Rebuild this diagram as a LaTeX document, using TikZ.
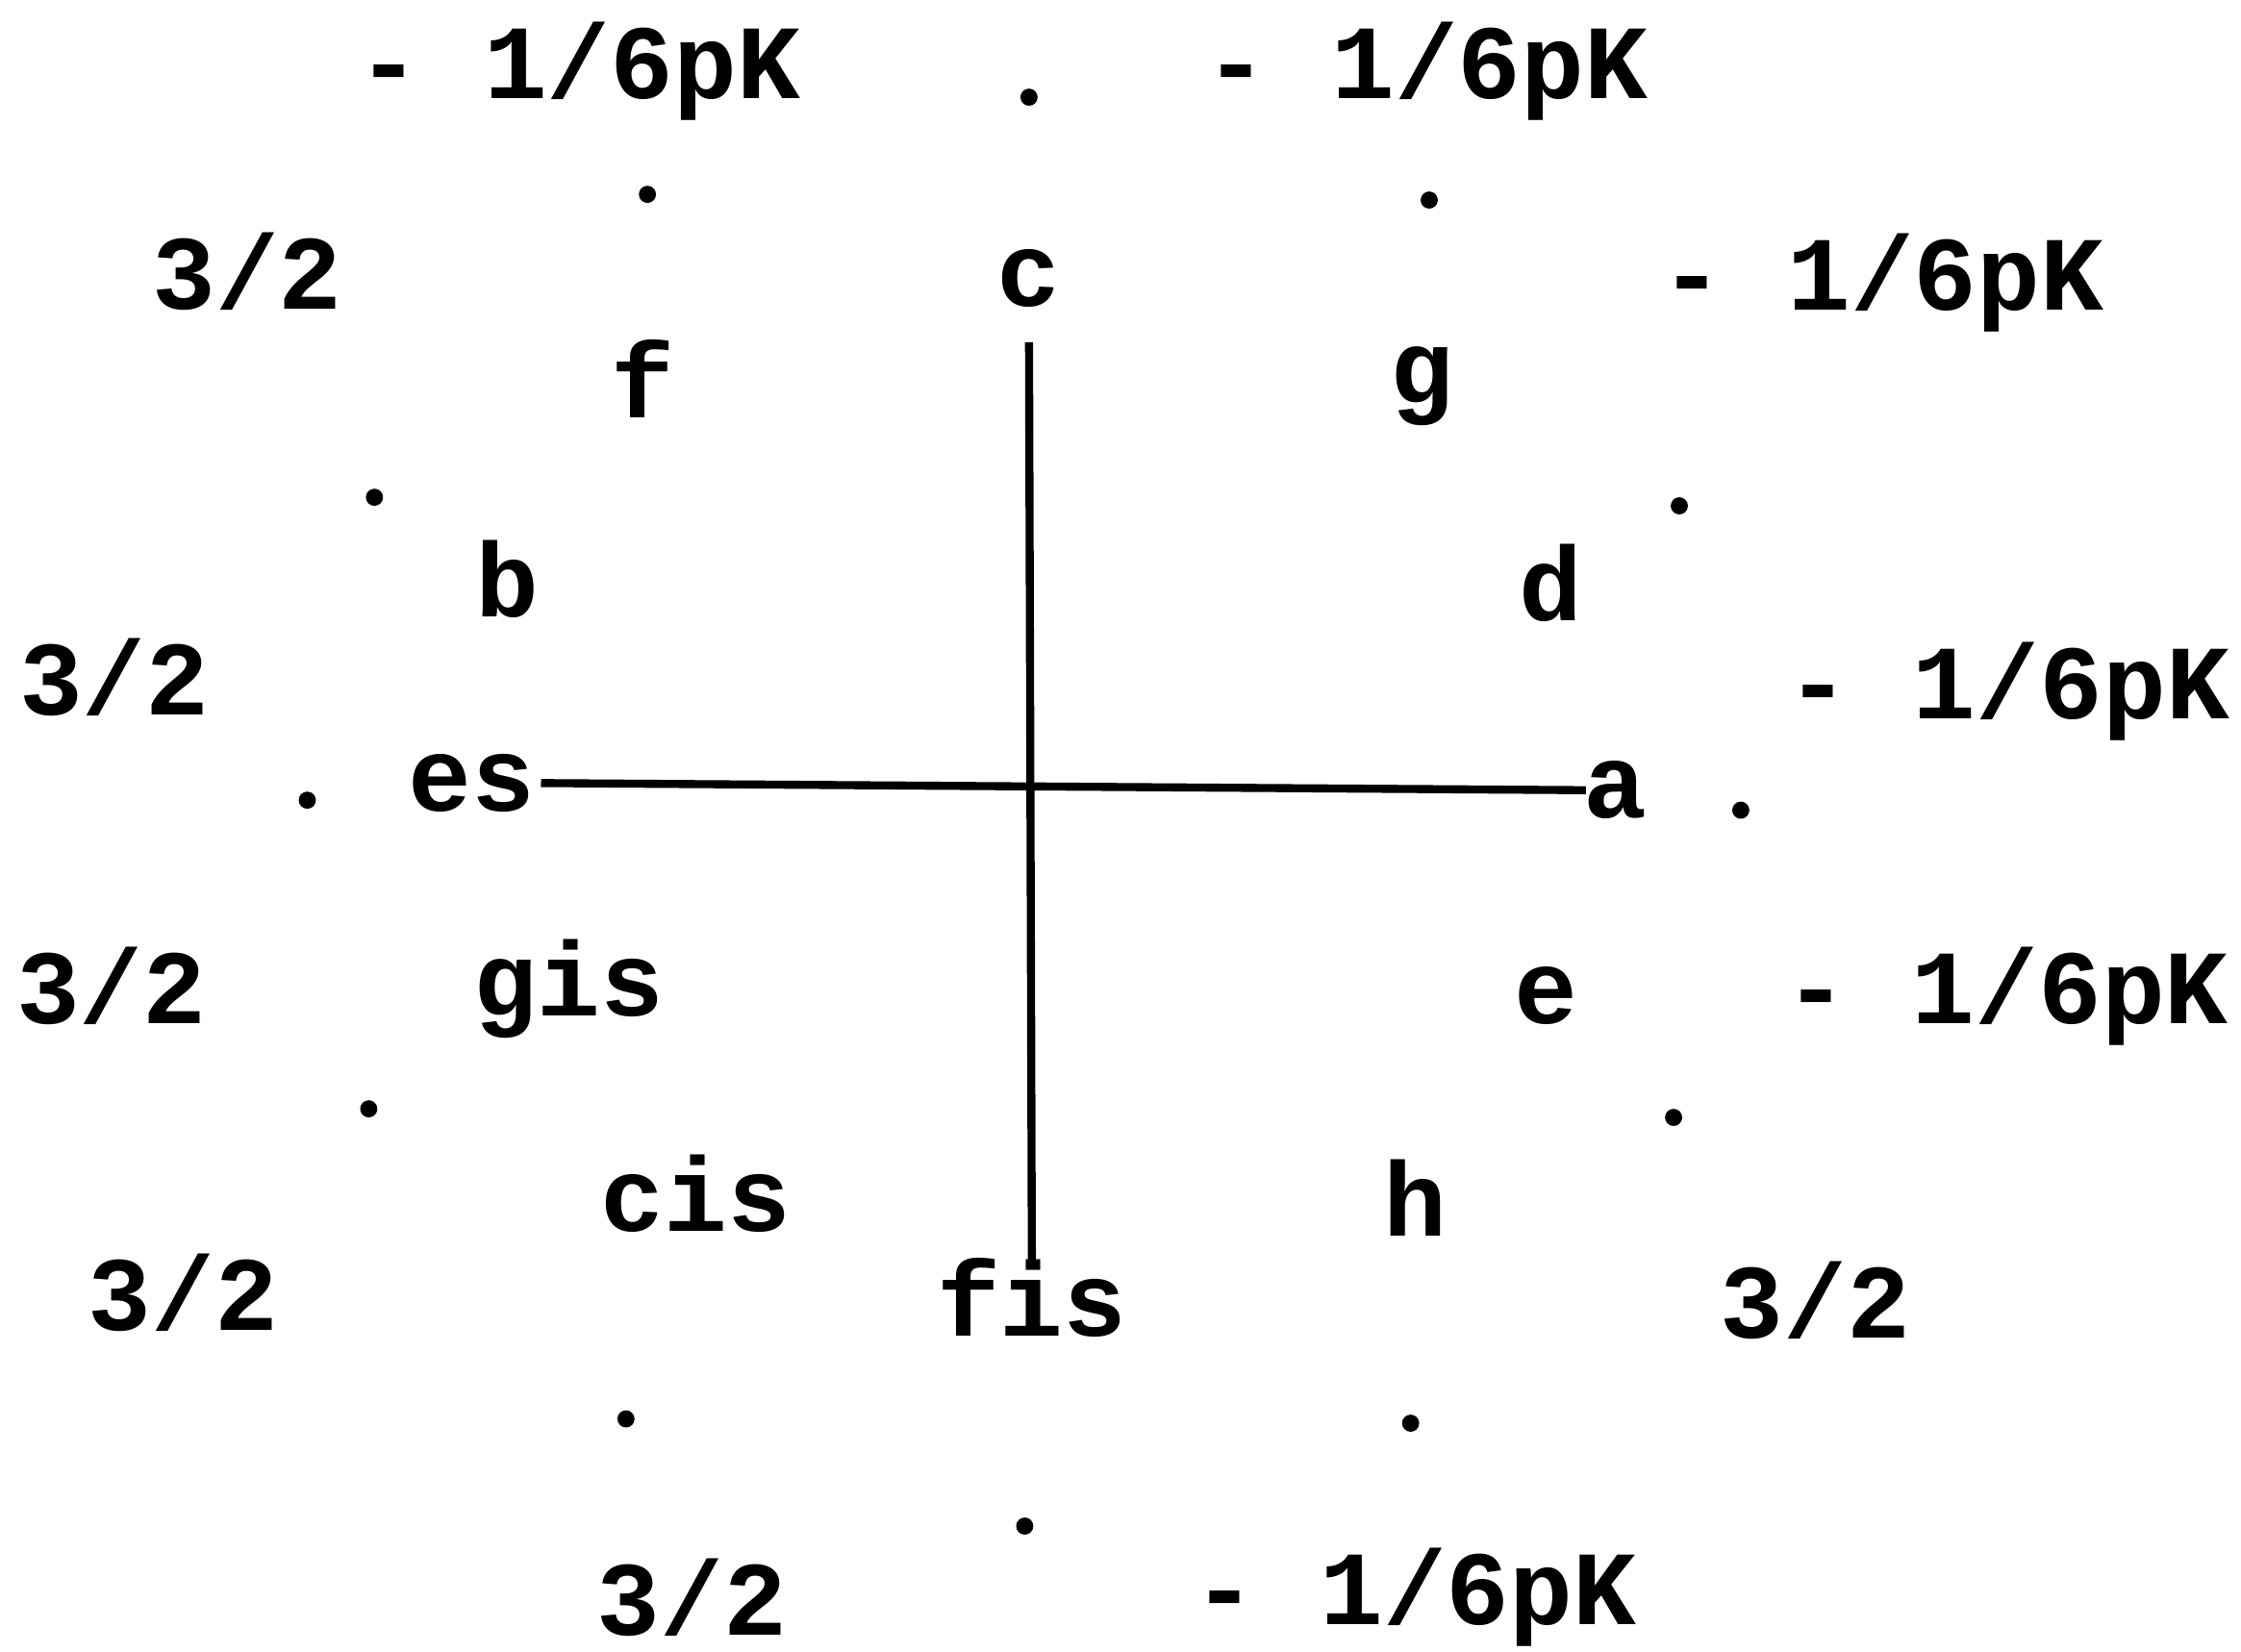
\documentclass[tikz,border=0pt]{standalone}
\usepackage{fontspec}
\setmonofont{Liberation Mono}
\usetikzlibrary{positioning}

\tikzset{
  schrift/.style={font=\ttfamily\bfseries\fontsize{21}{25}\selectfont, inner sep=1pt},
  ton/.style={schrift},
  wert/.style={schrift},
  punkt/.style={circle, fill=black, inner sep=0pt, minimum size=0.12cm},
  achse/.style={line width=1.6pt}
}

\begin{document}
\begin{tikzpicture}[x=0.01cm, y=-0.01cm]
  \useasboundingbox (0,0) rectangle (1568,1156);

  % Tonnamen
  \node[ton] (c)   at (720,195) {c};
  \node[ton] (f)   at (450,265) {f};
  \node[ton] (g)   at (995,270) {g};
  \node[ton] (b)   at (355,405) {b};
  \node[ton] (d)   at (1085,408) {d};
  \node[ton] (es)  at (330,548) {es};
  \node[ton] (a)   at (1130,553) {a};
  \node[ton] (gis) at (398,692) {gis};
  \node[ton] (e)   at (1082,697) {e};
  \node[ton] (cis) at (487,835) {cis};
  \node[ton] (h)   at (990,838) {h};
  \node[ton] (fis) at (722,908) {fis};

  % Punkte
  \node[punkt] (p1)  at (720,68) {};
  \node[punkt] (p2)  at (453,136) {};
  \node[punkt] (p3)  at (1000,140) {};
  \node[punkt] (p4)  at (262,348) {};
  \node[punkt] (p5)  at (1175,354) {};
  \node[punkt] (p6)  at (215,560) {};
  \node[punkt] (p7)  at (1218,567) {};
  \node[punkt] (p8)  at (258,776) {};
  \node[punkt] (p9)  at (1171,782) {};
  \node[punkt] (p10) at (438,993) {};
  \node[punkt] (p11) at (987,996) {};
  \node[punkt] (p12) at (717,1068) {};

  % Werte
  \node[wert] (k1) at (405,50)   {- 1/6pK};
  \node[wert] (k2) at (998,50)   {- 1/6pK};
  \node[wert] (k3) at (1317,198) {- 1/6pK};
  \node[wert] (k4) at (1405,484) {- 1/6pK};
  \node[wert] (k5) at (1404,697) {- 1/6pK};
  \node[wert] (k6) at (990,1118) {- 1/6pK};
  \node[wert] (q1) at (173,190)  {3/2};
  \node[wert] (q2) at (80,474)   {3/2};
  \node[wert] (q3) at (78,690)   {3/2};
  \node[wert] (q4) at (128,905)  {3/2};
  \node[wert] (q5) at (1270,910) {3/2};
  \node[wert] (q6) at (484,1118) {3/2};

  % Achsen
  \draw[achse] ([yshift=-0.2cm]c.south) -- ([yshift=-0.1cm]fis.north);
  \draw[achse] (es.east) -- ([xshift=0.06cm]a.west);
\end{tikzpicture}
\end{document}
